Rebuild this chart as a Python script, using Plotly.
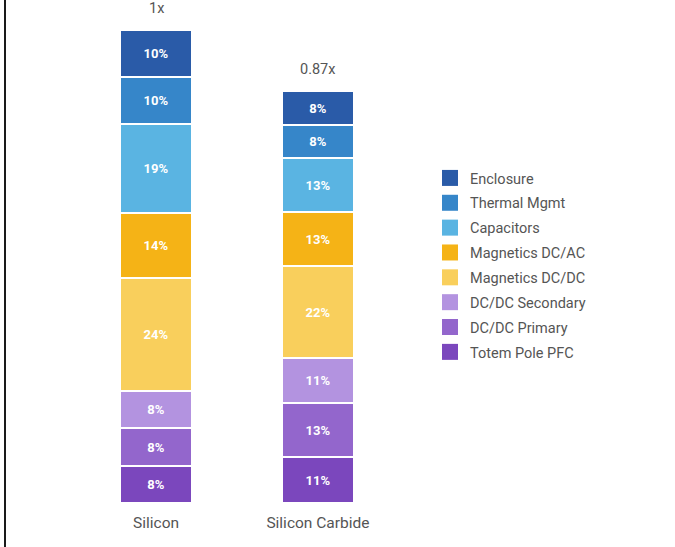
import plotly.graph_objects as go

# Bill-of-materials breakdown, share of each bar (%)
categories = ["Silicon", "Silicon Carbide"]
components = [
    "Totem Pole PFC",
    "DC/DC Primary",
    "DC/DC Secondary",
    "Magnetics DC/DC",
    "Magnetics DC/AC",
    "Capacitors",
    "Thermal Mgmt",
    "Enclosure",
]
silicon_pct = [8, 8, 8, 24, 14, 19, 10, 10]
sic_pct = [11, 13, 11, 22, 13, 13, 8, 8]
relative_cost = [1.0, 0.87]
cost_labels = ["1x", "0.87x"]

colors = [
    "#7B47BD",
    "#9366CC",
    "#B393E0",
    "#F9CF5C",
    "#F5B316",
    "#5AB4E2",
    "#3686C9",
    "#2A5BA8",
]

W, H = 675, 547
L, R, T, B = 59, 260, 30, 44
TEXT = "#555555"

fig = go.Figure()
si_total = sum(silicon_pct)
sic_total = sum(sic_pct)
for name, si, sc, col in zip(components, silicon_pct, sic_pct, colors):
    fig.add_trace(go.Bar(
        x=categories,
        y=[si / si_total * relative_cost[0], sc / sic_total * relative_cost[1]],
        name=name,
        showlegend=False,
        text=[f"{si}%", f"{sc}%"],
        textposition="inside",
        insidetextanchor="middle",
        textangle=0,
        constraintext="none",
        textfont=dict(color="white", size=13, family="Roboto", weight="bold"),
        marker=dict(color=col, line=dict(color="white", width=2)),
        width=0.444,
        hoverinfo="name+text",
    ))

# legend entries with larger square swatches, top of the stack listed first
for name, col in zip(reversed(components), reversed(colors)):
    fig.add_trace(go.Scatter(
        x=[None], y=[None], mode="markers", name=name, legendgroup=name,
        marker=dict(symbol="square", size=16, color=col),
        hoverinfo="skip",
    ))

for cat, total, lab in zip(categories, relative_cost, cost_labels):
    fig.add_annotation(
        x=cat, y=total, text=lab, showarrow=False,
        yanchor="bottom", yshift=11,
        font=dict(size=14.5, color=TEXT, family="Roboto"),
    )

# frame line at the left edge
plot_w = W - L - R
fig.add_shape(
    type="line", xref="paper", yref="paper",
    x0=(5 - L) / plot_w, x1=(5 - L) / plot_w,
    y0=-B / (H - T - B), y1=1 + T / (H - T - B),
    line=dict(color="#1a1a1a", width=2),
)

fig.update_layout(
    width=W, height=H,
    margin=dict(l=L, r=R, t=T, b=B),
    barmode="stack",
    plot_bgcolor="white",
    paper_bgcolor="white",
    font=dict(family="Roboto", color=TEXT, size=14),
    showlegend=True,
    legend=dict(
        traceorder="grouped",
        itemsizing="trace",
        xref="container", yref="container",
        x=430 / W, y=1 - 162 / H,
        xanchor="left", yanchor="top",
        tracegroupgap=3,
        font=dict(size=14.5, color=TEXT, family="Roboto"),
        bgcolor="rgba(0,0,0,0)",
    ),
    xaxis=dict(
        range=[-0.6, 1.6], showgrid=False, zeroline=False, showline=False,
        ticks="", ticklabelstandoff=8,
        tickfont=dict(size=15.5, color=TEXT, family="Roboto"),
    ),
    yaxis=dict(
        range=[0, 1.0], visible=False, showgrid=False, zeroline=False,
    ),
    bargap=0,
)

fig.write_html("out.html")
